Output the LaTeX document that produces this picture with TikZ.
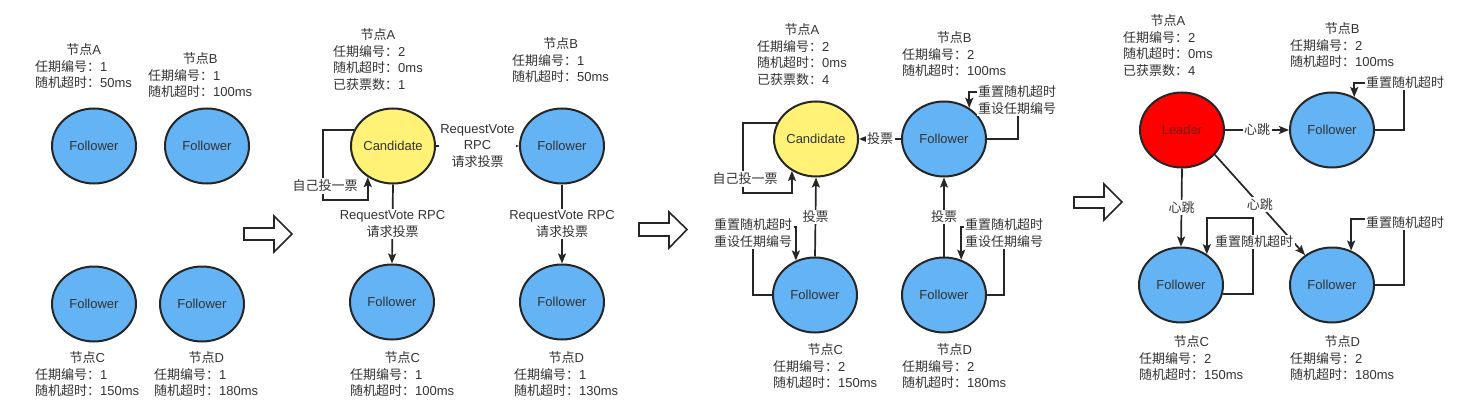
\documentclass[tikz,border=0pt]{standalone}
\usepackage{fontspec}
\setmainfont{Liberation Sans}
\newfontfamily\cjk{Noto Sans CJK SC}
\usetikzlibrary{arrows.meta,shapes.geometric}
\newcommand\zh[1]{{\cjk #1}}
\newcommand\blk[2]{\begin{tabular}[t]{@{}l@{}}\multicolumn{1}{@{}c@{}}{#1}\\ #2\end{tabular}}
\definecolor{fblue}{RGB}{99,179,245}
\definecolor{cyellow}{RGB}{255,242,118}
\definecolor{lred}{RGB}{255,0,0}
\definecolor{ink}{RGB}{38,38,38}
\definecolor{txtc}{RGB}{51,51,51}
\definecolor{leadtxt}{RGB}{115,28,28}
\begin{document}
\begin{tikzpicture}[x=1pt,y=-1pt,
 every node/.style={font=\fontsize{13}{16.5}\selectfont, text=txtc},
 st/.style={ellipse, draw=ink, line width=2pt, minimum width=84pt, minimum height=75pt, inner sep=0pt},
 fol/.style={st, fill=fblue},
 cand/.style={st, fill=cyellow},
 lead/.style={st, fill=lred, text=leadtxt},
 info/.style={anchor=base west, inner sep=0pt},
 conn/.style={draw=ink, line width=1.7pt, -{Stealth[length=10pt,width=8pt,inset=2pt]}},
 lab/.style={fill=white, inner sep=1.5pt, align=center},
 bigarrow/.style={draw=ink, line width=1.6pt, fill=white, line join=miter}
]
\fill[white] (0,0) rectangle (1461,417);
\useasboundingbox (0,0) rectangle (1461,417);

% ---------------- Panel 1 ----------------
\node[fol] (fA1) at (94,146) {Follower};
\node[fol] (fB1) at (207,146) {Follower};
\node[fol] (fC1) at (94,304) {Follower};
\node[fol] (fD1) at (202,304) {Follower};
\node[info] (iA1) at (35,54.7) {\blk{\zh{节点}A}{\zh{任期编号：}1\\ \zh{随机超时：}50ms}};
\node[info] (iB1) at (148,63.7) {\blk{\zh{节点}B}{\zh{任期编号：}1\\ \zh{随机超时：}100ms}};
\node[info] (iC1) at (35,362.7) {\blk{\zh{节点}C}{\zh{任期编号：}1\\ \zh{随机超时：}150ms}};
\node[info] (iD1) at (154,362.7) {\blk{\zh{节点}D}{\zh{任期编号：}1\\ \zh{随机超时：}180ms}};

\draw[bigarrow] (244,228) -- (274,228) -- (274,216) -- (292,234) -- (274,252) -- (274,240) -- (244,240) -- cycle;

% ---------------- Panel 2 ----------------
\node[cand] (cand2) at (393,146) {Candidate};
\node[fol] (fB2) at (562,146) {Follower};
\node[fol] (fC2) at (392,302) {Follower};
\node[fol] (fD2) at (562,302) {Follower};
\node[info] (iA2) at (333,39.7) {\blk{\zh{节点}A}{\zh{任期编号：}2\\ \zh{随机超时：}0ms\\ \zh{已获票数：}1}};
\node[info] (iB2) at (512,48.7) {\blk{\zh{节点}B}{\zh{任期编号：}1\\ \zh{随机超时：}50ms}};
\node[info] (iC2) at (350,362.7) {\blk{\zh{节点}C}{\zh{任期编号：}1\\ \zh{随机超时：}100ms}};
\node[info] (iD2) at (514,362.7) {\blk{\zh{节点}D}{\zh{任期编号：}1\\ \zh{随机超时：}130ms}};

\draw[conn] (cand2.east) -- node[lab] (l2a) {RequestVote\\RPC\\\zh{请求投票}} (fB2.west);
\draw[conn] (cand2.south) -- node[lab] (l2b) {RequestVote RPC\\\zh{请求投票}} (fC2.north);
\draw[conn] (fB2.south) -- node[lab] (l2c) {RequestVote RPC\\\zh{请求投票}} (fD2.north);
\draw[conn] (cand2.158) -| (323,200) -| (cand2.231);
\node[lab] (l2d) at (325,186) {\zh{自己投一票}};

\draw[bigarrow] (639,223) -- (669,223) -- (669,212) -- (687,229.5) -- (669,248) -- (669,236) -- (639,236) -- cycle;

% ---------------- Panel 3 ----------------
\node[cand] (cand3) at (816,139) {Candidate};
\node[fol] (fB3) at (944,139) {Follower};
\node[fol] (fC3) at (815,295) {Follower};
\node[fol] (fD3) at (944,295) {Follower};
\node[info] (iA3) at (757,34.7) {\blk{\zh{节点}A}{\zh{任期编号：}2\\ \zh{随机超时：}0ms\\ \zh{已获票数：}4}};
\node[info] (iB3) at (902,42.7) {\blk{\zh{节点}B}{\zh{任期编号：}2\\ \zh{随机超时：}100ms}};
\node[info] (iC3) at (773,354.7) {\blk{\zh{节点}C}{\zh{任期编号：}2\\ \zh{随机超时：}150ms}};
\node[info] (iD3) at (902,354.7) {\blk{\zh{节点}D}{\zh{任期编号：}2\\ \zh{随机超时：}180ms}};

\draw[conn] (fB3.west) -- node[lab] (l3a) {\zh{投票}} (cand3.east);
\draw[conn] (fC3.north) -- node[lab] (l3b) {\zh{投票}} (cand3.south);
\draw[conn] (fD3.north) -- node[lab] (l3c) {\zh{投票}} (fB3.south);
\draw[conn] (cand3.158) -| (743,193) -| (cand3.233);
\node[lab] (l3d) at (745,179) {\zh{自己投一票}};
\draw[conn] (fB3.east) -| (1018,92) -| (fB3.51);
\node[lab] (l3e) at (1017,100) {\zh{重置随机超时}\\\zh{重设任期编号}};
\draw[conn] (fC3.west) -| (753,227) -| (fC3.119);
\node[lab] (l3f) at (753,233) {\zh{重置随机超时}\\\zh{重设任期编号}};
\draw[conn] (fD3.east) -| (1004,227) -| (fD3.64);
\node[lab] (l3g) at (1004,233) {\zh{重置随机超时}\\\zh{重设任期编号}};

\draw[bigarrow] (1074,197) -- (1104,197) -- (1104,184) -- (1122,202) -- (1104,220) -- (1104,208) -- (1074,208) -- cycle;

% ---------------- Panel 4 ----------------
\node[lead] (lead4) at (1182,130) {Leader};
\node[fol] (fB4) at (1332,130) {Follower};
\node[fol] (fC4) at (1181,285) {Follower};
\node[fol] (fD4) at (1332,285) {Follower};
\node[info] (iA4) at (1123,25.7) {\blk{\zh{节点}A}{\zh{任期编号：}2\\ \zh{随机超时：}0ms\\ \zh{已获票数：}4}};
\node[info] (iB4) at (1290,33.7) {\blk{\zh{节点}B}{\zh{任期编号：}2\\ \zh{随机超时：}100ms}};
\node[info] (iC4) at (1139,346.7) {\blk{\zh{节点}C}{\zh{任期编号：}2\\ \zh{随机超时：}150ms}};
\node[info] (iD4) at (1290,346.7) {\blk{\zh{节点}D}{\zh{任期编号：}2\\ \zh{随机超时：}180ms}};

\draw[conn] (lead4.east) -- node[lab] (l4a) {\zh{心跳}} (fB4.west);
\draw[conn] (lead4.south) -- node[lab] (l4b) {\zh{心跳}} (fC4.north);
\draw[conn] (lead4.-37) -- node[lab] (l4c) {\zh{心跳}} (fD4.132);
\draw[conn] (fB4.east) -| (1404,83) -| (fB4.56);
\node[lab] (l4d) at (1405,83) {\zh{重置随机超时}};
\draw[conn] (fC4.-12) -| (1253,218) -| (fC4.50);
\node[lab] (l4e) at (1254,242) {\zh{重置随机超时}};
\draw[conn] (fD4.east) -| (1404,219) -| (fD4.61);
\node[lab] (l4f) at (1405,223) {\zh{重置随机超时}};
\end{tikzpicture}
\end{document}
